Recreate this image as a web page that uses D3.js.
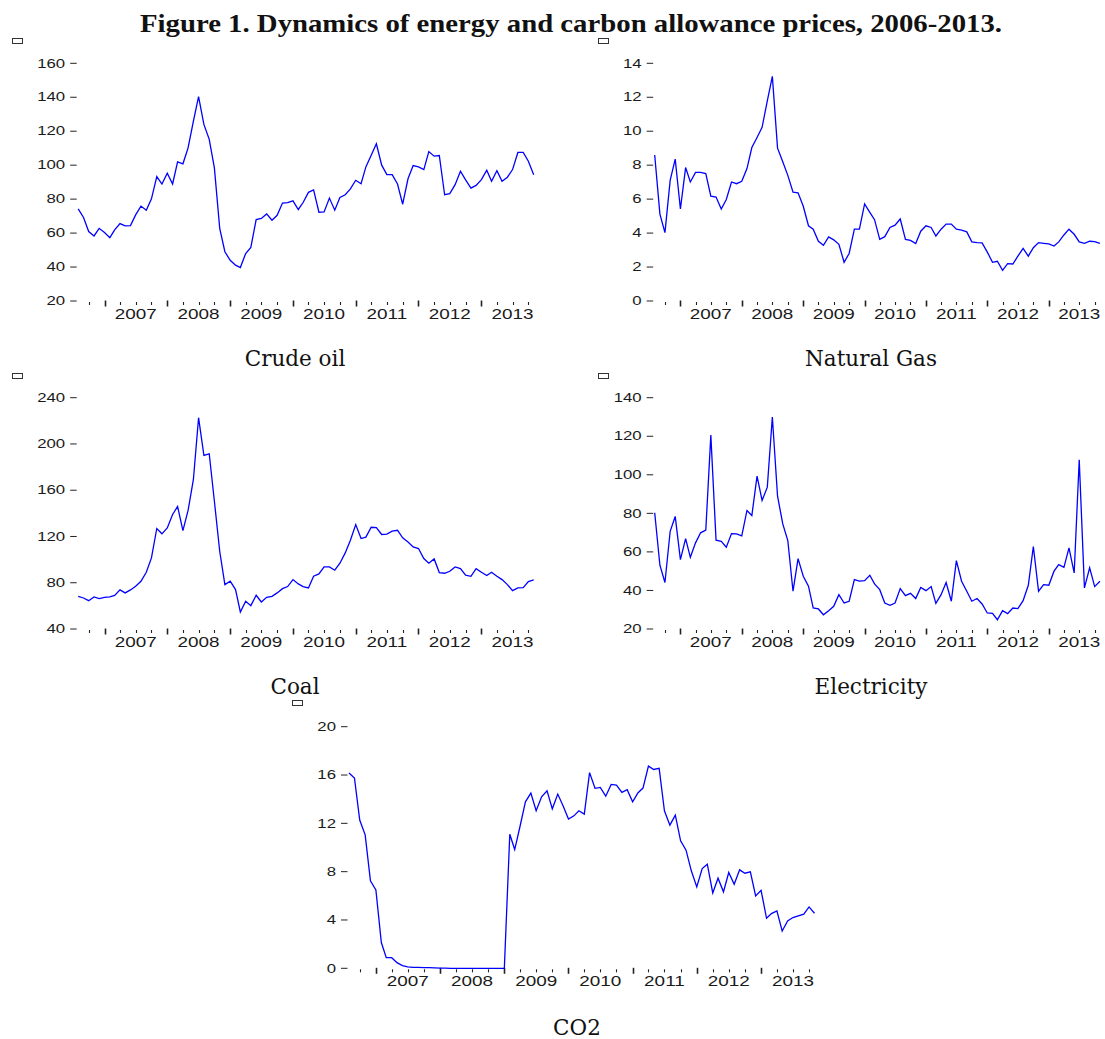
<!DOCTYPE html>
<html lang="en">
<head>
<meta charset="UTF-8">
<title>Figure 1</title>
<script src="https://cdn.jsdelivr.net/npm/d3@7"></script>
<style>
  body { margin: 0; background: #fff; }
  .tick-label { font-family: "Liberation Sans", Arial, sans-serif; fill: #1a1a1a; }
  .caption { font-family: "DejaVu Serif", serif; font-size: 21.5px; fill: #111; }
  .title { font-family: "Liberation Serif", serif; font-weight: bold; font-size: 25px; fill: #111; }
</style>
</head>
<body>
<svg id="fig" width="1105" height="1039"></svg>
<script>

// monthly observations, Aug 2006 .. Nov 2013
var startMonth = new Date(2006, 7, 1),
    endMonth = new Date(2013, 10, 1);

var crudeOil = [74.3, 69.2, 60.9, 58.3, 62.8, 60.3, 57.3, 61.9, 65.6, 64.2,
  64.4, 70.7, 75.9, 73.5, 80.2, 93.3, 88.9, 95.2, 88.9, 101.9,
  100.8, 110.2, 126, 140.4, 124, 115.2, 98.4, 62.8, 49, 44,
  41.1, 39.7, 48, 51.6, 68, 68.6, 71.3, 67.6, 70.5, 77.7,
  77.9, 79, 73.9, 78, 84, 85.4, 72.3, 72.5, 80.6, 73.5,
  81, 82.6, 86, 91.1, 89.1, 99, 105.9, 112.6, 100, 94.4,
  94.4, 88.9, 77, 92, 99.8, 99, 97.4, 108, 105.3, 105.7,
  82.6, 83.2, 88.5, 96.4, 91.3, 86.5, 88.1, 91.5, 97, 90.5,
  96.8, 90.5, 92.9, 97.4, 107.5, 107.5, 102.3, 94.4];

var naturalGas = [8.6, 5.12, 4.03, 7.1, 8.36, 5.42, 7.86, 7.01, 7.57, 7.57,
  7.5, 6.18, 6.12, 5.42, 5.98, 7.01, 6.91, 7.05, 7.8, 9.04,
  9.63, 10.23, 11.78, 13.23, 9.0, 8.2, 7.4, 6.41, 6.37, 5.58,
  4.43, 4.23, 3.52, 3.28, 3.77, 3.6, 3.34, 2.28, 2.8, 4.23,
  4.23, 5.72, 5.22, 4.79, 3.63, 3.79, 4.33, 4.47, 4.83, 3.63,
  3.57, 3.38, 4.11, 4.43, 4.33, 3.83, 4.23, 4.53, 4.53, 4.23,
  4.17, 4.07, 3.48, 3.44, 3.42, 2.88, 2.28, 2.34, 1.81, 2.2,
  2.18, 2.64, 3.1, 2.64, 3.14, 3.44, 3.4, 3.36, 3.24, 3.48,
  3.89, 4.23, 3.93, 3.48, 3.4, 3.52, 3.5, 3.4];

var coal = [68.3, 66.8, 64.5, 67.7, 66.3, 67.4, 67.7, 69.1, 73.8, 71.2,
  73.8, 76.9, 81.3, 89.1, 101.5, 126.9, 122.3, 127.4, 139, 145.9,
  125.1, 142.5, 169.3, 222.7, 190.1, 191.5, 150.5, 107.2, 78.4, 81.3,
  74.1, 54.7, 64, 60.2, 69.2, 63.4, 67.4, 68.3, 71.2, 74.9,
  76.7, 82.7, 79, 76.7, 75.5, 85.6, 87.6, 93.7, 93.7, 90.8,
  96.9, 105.8, 116.8, 130.3, 118.2, 119.4, 128, 127.7, 121.7, 122,
  124.6, 125.4, 118.8, 115.3, 111, 109.6, 100.9, 96.9, 100.6, 88.8,
  88.2, 89.9, 93.7, 92.2, 86.5, 85.6, 92.2, 89.1, 86.2, 89.1,
  85.6, 82.7, 78.4, 73.2, 75.5, 75.8, 81, 82.4];

var electricity = [80.3, 53.1, 44.1, 70.7, 78.4, 56, 66.9, 57.2, 64.7, 69.9,
  71.3, 120.6, 66.1, 65.5, 62.4, 69.5, 69.4, 68.3, 81.5, 78.9,
  99.3, 86.7, 93.6, 130, 88.9, 74.5, 65.9, 39.6, 56.5, 47.4,
  42.2, 30.9, 30.4, 27.4, 29.5, 31.8, 37.8, 33.5, 34.4, 45.6,
  44.8, 45.1, 47.9, 43.4, 40.4, 33.5, 32.3, 33.5, 41, 37.3,
  38.5, 35.8, 41.6, 39.9, 42, 33.3, 37.8, 44.1, 34.4, 55.5,
  44.8, 39.6, 34.4, 35.8, 33, 28.3, 28.1, 24.8, 29.5, 28,
  30.9, 30.6, 34.7, 42.7, 62.8, 39.6, 43, 42.7, 50, 53.4,
  52, 62.1, 49.1, 107.8, 41.3, 51.7, 42, 44.8];

var co2 = [16.16, 15.75, 12.27, 11.05, 7.24, 6.49, 2.13, 0.88, 0.88, 0.47,
  0.22, 0.11, 0.08, 0.07, 0.06, 0.05, 0.04, 0.02, 0.01, 0,
  0, 0, 0, 0, 0, 0, 0, 0, 0, 0,
  11.1, 9.83, 11.8, 13.78, 14.5, 13.04, 14.2, 14.7, 13.2, 14.42,
  13.45, 12.35, 12.62, 13.04, 12.76, 16.2, 14.9, 14.97, 14.25, 15.22,
  15.17, 14.56, 14.78, 13.78, 14.53, 14.92, 16.74, 16.46, 16.55, 13.04,
  11.85, 12.68, 10.55, 9.78, 8.07, 6.74, 8.26, 8.62, 6.24, 7.46,
  6.33, 7.93, 6.96, 8.15, 7.87, 7.98, 5.99, 6.46, 4.14, 4.53,
  4.75, 3.09, 3.92, 4.2, 4.34, 4.48, 5.08, 4.56];

var crudeTicks = [20, 40, 60, 80, 100, 120, 140, 160];
var gasTicks = [0, 2, 4, 6, 8, 10, 12, 14];
var coalTicks = [40, 80, 120, 160, 200, 240];
var elecTicks = [20, 40, 60, 80, 100, 120, 140];
var co2Ticks = [0, 4, 8, 12, 16, 20];
var yearLabels = ["2007", "2008", "2009", "2010", "2011", "2012", "2013"];
var captions = ["Crude oil", "Natural Gas", "Coal", "Electricity", "CO2"];

var months = d3.timeMonth.range(startMonth, d3.timeMonth.offset(endMonth, 1));

// layout of each small chart (pixels)
var panels = [
  { values: crudeOil, ticks: crudeTicks, caption: captions[0], x0: 78.2, x1: 533.7, y0: 301, y1: 63.3, box: [12, 38], cx: 295, cy: 366 },
  { values: naturalGas, ticks: gasTicks, caption: captions[1], x0: 654.7, x1: 1099.9, y0: 301, y1: 63.3, box: [598, 38], cx: 871, cy: 366 },
  { values: coal, ticks: coalTicks, caption: captions[2], x0: 78.2, x1: 533.7, y0: 629, y1: 397.7, box: [12, 373], cx: 295, cy: 694 },
  { values: electricity, ticks: elecTicks, caption: captions[3], x0: 654.7, x1: 1099.9, y0: 629, y1: 397.7, box: [598, 373], cx: 871, cy: 694 },
  { values: co2, ticks: co2Ticks, caption: captions[4], x0: 349, x1: 814.5, y0: 968.3, y1: 726.7, box: [292, 700], cx: 577, cy: 1035 }
];

var svg = d3.select("#fig");

svg.append("text")
    .attr("class", "title")
    .attr("x", 571)
    .attr("y", 32)
    .attr("text-anchor", "middle")
    .attr("textLength", 862)
    .attr("lengthAdjust", "spacingAndGlyphs")
    .text("Figure 1. Dynamics of energy and carbon allowance prices, 2006-2013.");

panels.forEach(function(p) {
  var x = d3.scaleTime().domain([startMonth, endMonth]).range([p.x0, p.x1]);
  var y = d3.scaleLinear().domain(d3.extent(p.ticks)).range([p.y0, p.y1]);
  var g = svg.append("g");

  // little empty box above the axis
  g.append("rect")
      .attr("x", p.box[0] + 0.5)
      .attr("y", p.box[1] + 0.5)
      .attr("width", 10)
      .attr("height", 5)
      .attr("fill", "#fff")
      .attr("stroke", "#333")
      .attr("stroke-width", 1);

  // y axis: label then a short dash, no axis line
  var yt = g.selectAll(".ytick").data(p.ticks).enter().append("g")
      .attr("class", "ytick");
  yt.append("line")
      .attr("x1", p.x0 - 8).attr("x2", p.x0 - 1.5)
      .attr("y1", function(d) { return y(d); })
      .attr("y2", function(d) { return y(d); })
      .attr("stroke", "#222").attr("stroke-width", 1);
  yt.append("g")
      .attr("transform", function(d) { return "translate(" + (p.x0 - 13) + "," + (y(d) + 4.2) + ") scale(1.4,1)"; })
    .append("text")
      .attr("class", "tick-label")
      .attr("text-anchor", "end")
      .style("font-size", "12px")
      .text(function(d) { return d; });

  // x axis: quarterly ticks, longer at the start of each year
  var qTicks = d3.timeMonth.every(3).range(startMonth, d3.timeMonth.offset(endMonth, 1));
  g.selectAll(".xtick").data(qTicks).enter().append("line")
      .attr("class", "xtick")
      .attr("x1", function(d) { return Math.round(x(d)) + 0.5; })
      .attr("x2", function(d) { return Math.round(x(d)) + 0.5; })
      .attr("y1", function(d) { return d.getMonth() == 0 ? p.y0 - 0.5 : p.y0 + 1; })
      .attr("y2", function(d) { return d.getMonth() == 0 ? p.y0 + 5.5 : p.y0 + 4; })
      .attr("stroke", "#222")
      .attr("stroke-width", function(d) { return d.getMonth() == 0 ? 1.6 : 1.1; });

  g.selectAll(".year").data(yearLabels).enter().append("g")
      .attr("transform", function(d) { return "translate(" + x(new Date(+d, 6, 1)) + "," + (p.y0 + 17.5) + ") scale(1.35,1)"; })
    .append("text")
      .attr("class", "tick-label")
      .attr("text-anchor", "middle")
      .style("font-size", "14px")
      .text(function(d) { return d; });

  var line = d3.line()
      .x(function(d, i) { return x(months[i]); })
      .y(function(d) { return y(d); });

  g.append("path")
      .datum(p.values)
      .attr("d", line)
      .attr("fill", "none")
      .attr("stroke", "#0000ff")
      .attr("stroke-width", 1.3)
      .attr("stroke-linejoin", "miter");

  g.append("text")
      .attr("class", "caption")
      .attr("x", p.cx)
      .attr("y", p.cy)
      .attr("text-anchor", "middle")
      .text(p.caption);
});
</script>
</body>
</html>
